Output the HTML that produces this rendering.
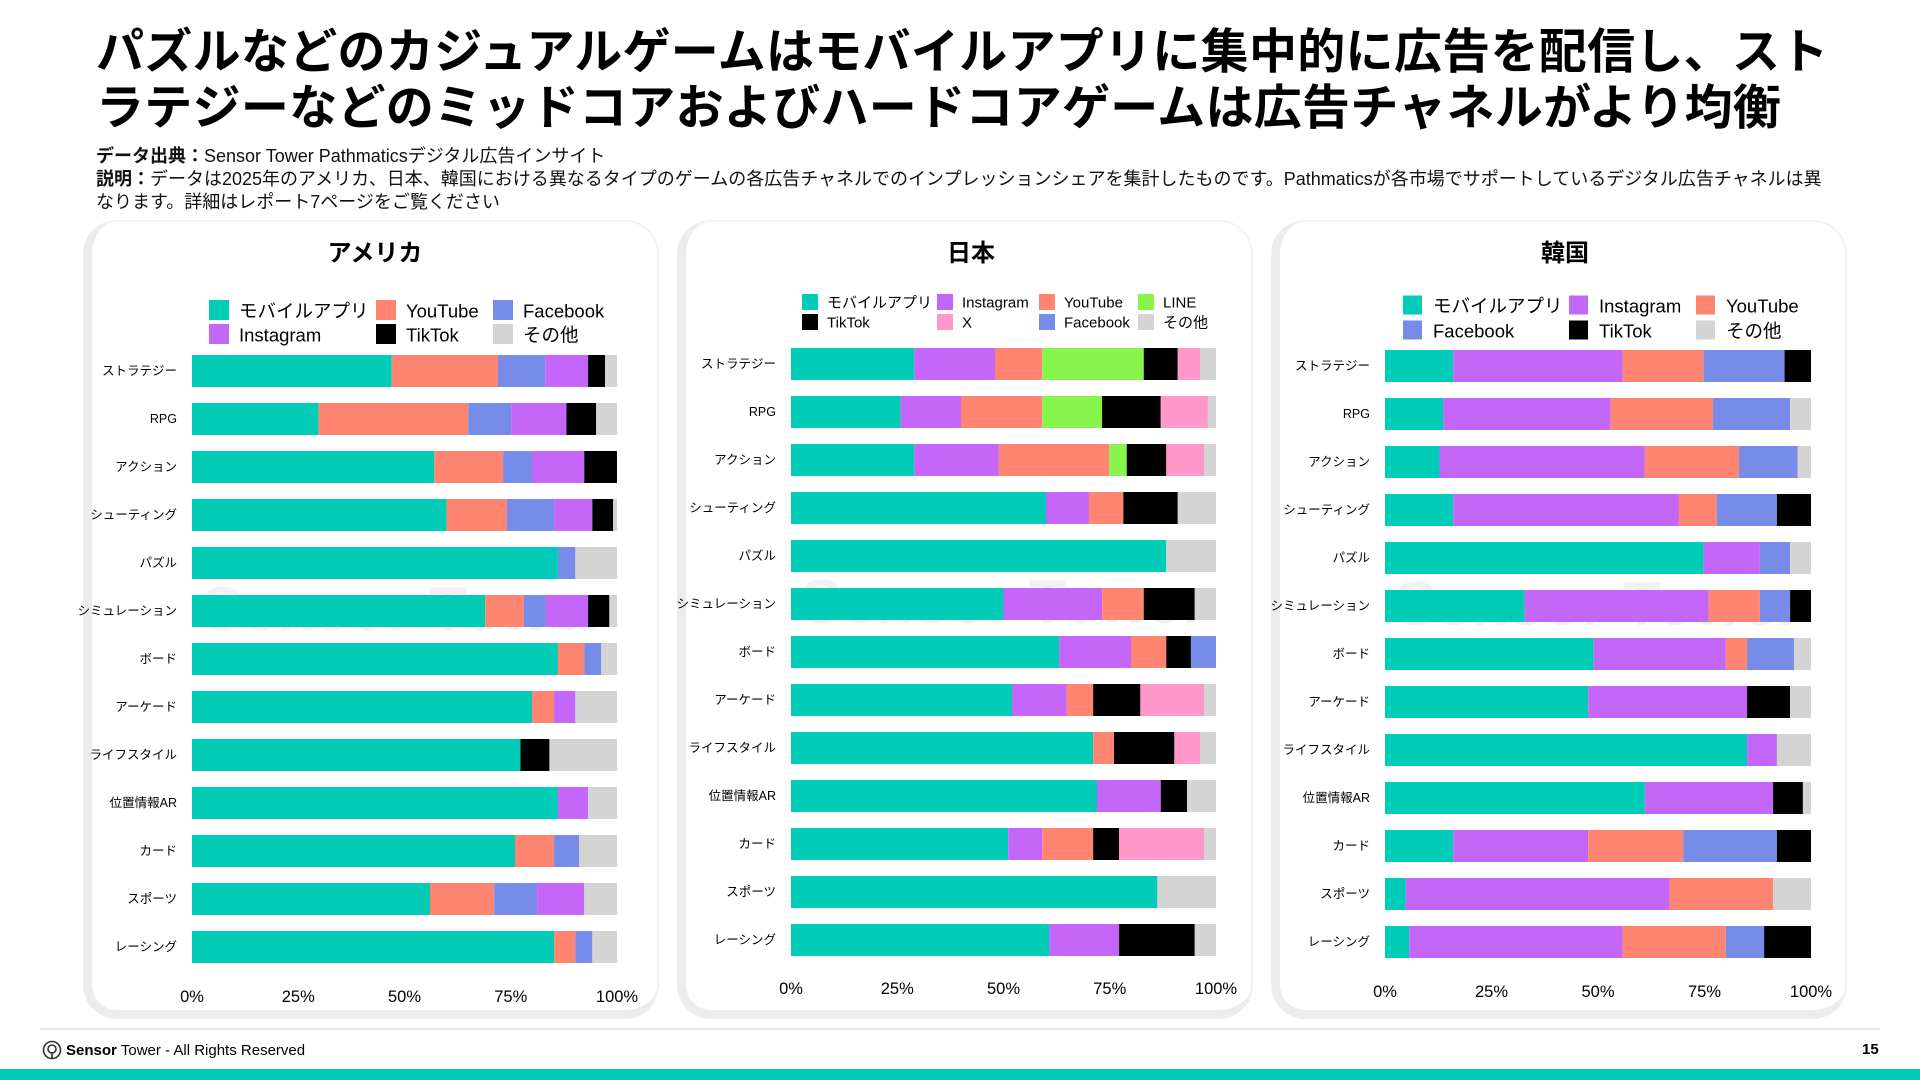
<!DOCTYPE html>
<html lang="ja"><head><meta charset="utf-8">
<style>
*{margin:0;padding:0;box-sizing:border-box}
body{width:1920px;height:1080px;background:#fff;position:relative;overflow:hidden;font-family:"Liberation Sans","Noto Sans CJK JP",sans-serif;color:#000}
.title{position:absolute;left:96px;top:25px;font-size:48px;font-weight:bold;line-height:56px;letter-spacing:0.3px;white-space:nowrap}
.sub{position:absolute;left:96px;top:145px;font-size:18px;line-height:23px;white-space:nowrap;color:#111}
.panel{position:absolute;top:220px;width:576px;height:799px;border-radius:34px;background:#fff;border-left:9px solid #ececec;border-bottom:9px solid #ececec;border-top:2px solid #f2f2f2;border-right:2px solid #f2f2f2}
.ptitle{position:absolute;font-size:24px;font-weight:bold;text-align:center;width:300px}
.footline{position:absolute;left:40px;top:1028px;width:1840px;height:2px;background:#e6e6e6}
.foot{position:absolute;left:42px;top:1040px;font-size:15px;display:flex;align-items:center;gap:4px}
.pnum{position:absolute;left:1862px;top:1041px;font-size:15px;font-weight:bold}
.band{position:absolute;left:0;top:1069px;width:1920px;height:11px;background:#00ccb7}
svg{position:absolute;left:0;top:0}
</style></head><body>
<div class="title">パズルなどのカジュアルゲームはモバイルアプリに集中的に広告を配信し、スト<br>ラテジーなどのミッドコアおよびハードコアゲームは広告チャネルがより均衡</div>
<div class="sub"><b>データ出典：</b>Sensor Tower Pathmaticsデジタル広告インサイト<br><b>説明：</b>データは2025年のアメリカ、日本、韓国における異なるタイプのゲームの各広告チャネルでのインプレッションシェアを集計したものです。Pathmaticsが各市場でサポートしているデジタル広告チャネルは異<br>なります。詳細はレポート7ページをご覧ください</div>
<div class="panel" style="left:83px"></div>
<div class="panel" style="left:677px"></div>
<div class="panel" style="left:1271px"></div>
<div class="ptitle" style="left:225px;top:233px">アメリカ</div>
<div class="ptitle" style="left:821px;top:233px">日本</div>
<div class="ptitle" style="left:1415px;top:233px">韓国</div>
<svg id="chart" width="1920" height="1080"></svg>
<div class="footline"></div>
<div class="foot"><svg width="20" height="20" style="position:static" viewBox="0 0 20 20"><circle cx="10" cy="10" r="8.5" fill="none" stroke="#333" stroke-width="1.6"/><circle cx="10" cy="9" r="4" fill="none" stroke="#333" stroke-width="1.6"/><line x1="10" y1="12" x2="10" y2="18" stroke="#333" stroke-width="1.6"/></svg><b>Sensor</b>Tower - All Rights Reserved</div>
<div class="pnum">15</div>
<div class="band"></div>
<script>
const categories=["ストラテジー","RPG","アクション","シューティング","パズル","シミュレーション","ボード","アーケード","ライフスタイル","位置情報AR","カード","スポーツ","レーシング"];
const tickLabels=["0%","25%","50%","75%","100%"];
const tickValues=[0,25,50,75,100];
// USA: mobile, YouTube, Facebook, Instagram, TikTok, other
const usSeries=["モバイルアプリ","YouTube","Facebook","Instagram","TikTok","その他"];
const usMobile=[47.0,29.8,57.0,59.9,86.1,69.0,86.1,80.0,77.3,86.1,76.0,56.0,85.2];
const usYouTube=[25.0,35.2,16.2,14.2,0,9.1,6.2,5.2,0,0,9.2,15.1,5.0];
const usFacebook=[11.1,10.1,6.8,11.1,4.1,5.1,4.0,0,0,0,5.9,10.1,4.0];
const usInstagram=[10.1,13.0,12.3,9.0,0,10.0,0,5.0,0,7.1,0,11.1,0];
const usTikTok=[4.0,7.0,7.7,4.9,0,5.0,0,0,6.8,0,0,0,0];
const usOther=[2.8,4.9,0,0.9,9.8,1.8,3.7,9.8,15.9,6.8,8.9,7.7,5.8];
// Japan: mobile, Instagram, YouTube, LINE, TikTok, X, Facebook, other
const jpSeries=["モバイルアプリ","Instagram","YouTube","LINE","TikTok","X","Facebook","その他"];
const jpMobile=[29.0,25.8,29.0,60.0,88.3,50.0,63.1,52.0,71.1,72.0,51.1,86.2,60.8];
const jpInstagram=[19.0,14.2,19.9,10.1,0,23.2,16.9,12.9,0,15.0,8.0,0,16.4];
const jpYouTube=[11.1,19.1,26.0,8.1,0,9.8,8.3,6.2,4.9,0,12.0,0,0];
const jpLINE=[23.9,14.1,4.1,0,0,0,0,0,0,0,0,0,0];
const jpTikTok=[8.0,13.8,9.3,12.8,0,12.0,5.8,11.1,14.2,6.2,6.1,0,17.8];
const jpX=[5.3,11.1,8.9,0,0,0,0,15.0,6.1,0,20.0,0,0];
const jpFacebook=[0,0,0,0,0,0,5.9,0,0,0,0,0,0];
const jpOther=[3.7,1.9,2.8,9.0,11.7,5.0,0,2.8,3.7,6.8,2.8,13.8,5.0];
// Korea: mobile, Instagram, YouTube, Facebook, TikTok, other
const krSeries=["モバイルアプリ","Instagram","YouTube","Facebook","TikTok","その他"];
const krMobile=[16.0,13.7,12.8,16.0,74.8,32.8,49.0,47.7,85.0,61.0,16.0,4.9,5.7];
const krInstagram=[39.8,39.3,48.2,53.0,13.2,43.2,31.0,37.3,7.0,30.1,31.7,61.9,50.1];
const krYouTube=[19.0,24.0,22.1,8.9,0,12.0,5.0,0,0,0,22.3,24.3,24.2];
const krFacebook=[19.0,18.1,13.8,14.1,7.1,7.1,11.0,0,0,0,22.0,0,9.0];
const krTikTok=[6.2,0,0,8.0,0,4.9,0,10.1,0,7.0,8.0,0,11.0];
const krOther=[0,4.9,3.1,0,4.9,0,4.0,4.9,8.0,1.9,0,8.9,0];

const COL={"モバイルアプリ":"#00ccb7","YouTube":"#ff8570","Facebook":"#768ce8","Instagram":"#c466f8","TikTok":"#000000","その他":"#d4d4d4","LINE":"#88f54c","X":"#ff97c9"};
const NS="http://www.w3.org/2000/svg";
const svg=document.getElementById('chart');
function mk(tag,attrs,parent){const e=document.createElementNS(NS,tag);for(const k in attrs)e.setAttribute(k,attrs[k]);(parent||svg).appendChild(e);return e;}
function txt(x,y,s,size,anchor,parent,weight){const t=mk('text',{x:x,y:y,'font-size':size,'text-anchor':anchor||'start','font-family':'Liberation Sans, Noto Sans CJK JP, sans-serif','dominant-baseline':'central'},parent);if(weight)t.setAttribute('font-weight',weight);t.textContent=s;return t;}

function drawPanel(key,cfg,series,values){
  const g=mk('g',{});
  
  
  const xs=v=>cfg.x0+(cfg.x1-cfg.x0)*v/100;
  const ys=i=>cfg.y0+i*48;
  const wm=txt((cfg.x0+cfg.x1)/2,cfg.y0+48*5.3,'Sensor Tower',62,'middle',g,'bold');
  wm.setAttribute('fill','#000');wm.setAttribute('opacity','0.05');
  
  
  series.forEach((s,j)=>{
    const col=j%cfg.cols,row=Math.floor(j/cfg.cols);
    const lg=mk('g',{},g);
    
    
    const lx=cfg.legX[col],ly=cfg.legY[row];
    mk('rect',{x:lx,y:ly-cfg.sw/2,width:cfg.sw,height:cfg.sw,fill:COL[s]},lg);
    txt(lx+cfg.sw+cfg.gap,ly+1,s,cfg.lfs,'start',lg);
  });
  categories.forEach((c,i)=>{
    const lab=txt(cfg.x0-15,ys(i)+16,c,12.5,'end',g);
    
    
    let acc=0;
    series.forEach((s,j)=>{
      const v=values[j][i];
      if(v<=0){return;}
      const r=mk('rect',{x:xs(acc),y:ys(i),width:xs(acc+v)-xs(acc),height:32,fill:COL[s]},g);
      
      
      acc+=v;
    });
  });
  tickValues.forEach((t,k)=>{
    const tl=txt(xs(t),cfg.tickY,tickLabels[k],16.5,'middle',g);
    
    
  });
}
drawPanel('us',{x0:192,x1:617,y0:355,tickY:997,cols:3,legX:[209,376,493],legY:[310,334],sw:20,gap:10,lfs:18.5},usSeries,[usMobile,usYouTube,usFacebook,usInstagram,usTikTok,usOther]);
drawPanel('jp',{x0:791,x1:1216,y0:348,tickY:989,cols:4,legX:[802,937,1039,1138],legY:[302,322],sw:16,gap:9,lfs:15},jpSeries,[jpMobile,jpInstagram,jpYouTube,jpLINE,jpTikTok,jpX,jpFacebook,jpOther]);
drawPanel('kr',{x0:1385,x1:1811,y0:350,tickY:992,cols:3,legX:[1403,1569,1696],legY:[305,330],sw:19,gap:11,lfs:18.5},krSeries,[krMobile,krInstagram,krYouTube,krFacebook,krTikTok,krOther]);
</script>
</body></html>
